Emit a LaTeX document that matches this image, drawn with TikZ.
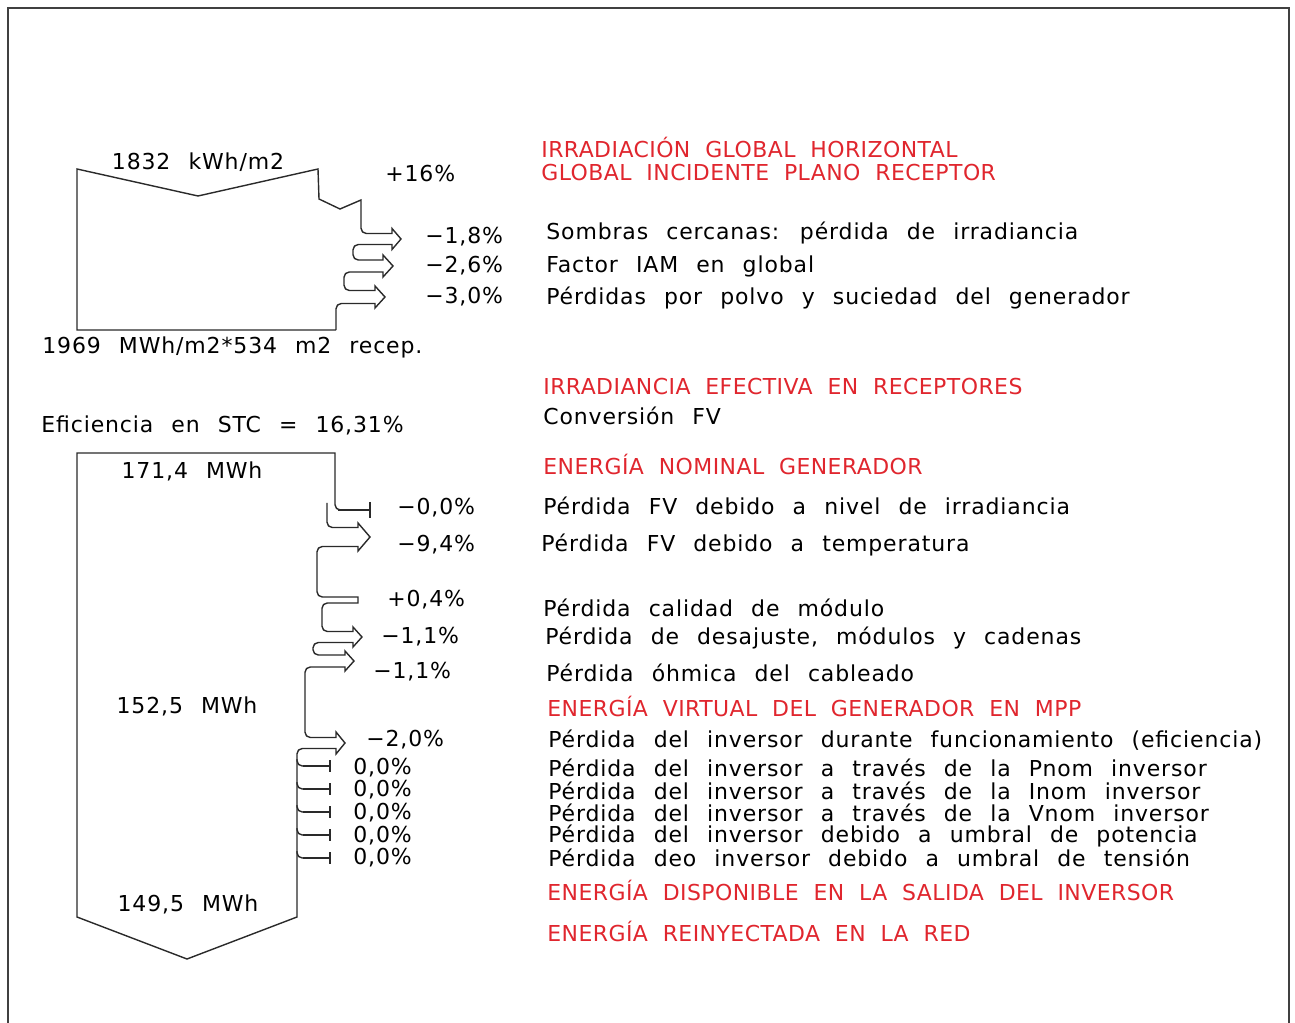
\documentclass[tikz,border=0pt]{standalone}
\usepackage{fontspec}
\usepackage{tikz}
\newfontfamily\cadfont[LetterSpace=4,WordSpace=2.3]{DejaVu Sans}
\newfontfamily\hdrfont[LetterSpace=2,WordSpace=2.0]{DejaVu Sans}
\definecolor{cRed}{HTML}{E0262E}
\definecolor{cLine}{HTML}{2A2A2A}

\begin{document}
\begin{tikzpicture}[x=0.02cm,y=-0.02cm,
   band/.style={draw=cLine,line width=0.8pt,line join=miter},
   tick/.style={draw=cLine,line width=1.6pt},
   lbl/.style={anchor=west,inner sep=0pt,font=\cadfont\fontsize{12.5}{14}\selectfont},
   hdr/.style={lbl,text=cRed,font=\hdrfont\fontsize{12.5}{14}\selectfont},
   val/.style={lbl,anchor=center}]
  \useasboundingbox (0,0) rectangle (1295,1023);
  % frame
  \draw[line width=1.2pt,black!75] (8,1023) -- (8,8) -- (1289,8) -- (1289,1023);
  % irradiation band
  \draw[band] (336,330) -- (77,330) -- (77,169) -- (198,196) -- (318,169)
     -- (319,199) -- (340,209) -- (361,200)
     [rounded corners=3pt] -- (361,233.5) [sharp corners] -- (392,233.5) -- (392,228.5)
     -- (401,239) -- (392,249.5) -- (392,244.5)
     [rounded corners=3pt] -- (353,244.5) -- (353,260) [sharp corners] -- (383,260)
     -- (383,255) -- (393,266) -- (383,277) -- (383,272)
     [rounded corners=3pt] -- (344,272) -- (344,290.5) [sharp corners] -- (375,290.5)
     -- (375,286) -- (385,297) -- (375,308) -- (375,303.5)
     [rounded corners=3pt] -- (336,303.5) [sharp corners] -- (336,330);
  % energy band
  \draw[band] (370,510) [rounded corners=3pt] -- (335,510) [sharp corners] -- (335,453)
     -- (77,453) -- (77,917) -- (187,959) -- (297,917)
     [rounded corners=3pt] -- (297,748.5) [sharp corners] -- (336,748.5) -- (336,754)
     -- (345,743) -- (336,732) -- (336,737.5)
     [rounded corners=3pt] -- (305,737.5) -- (305,667) [sharp corners] -- (345,667)
     -- (345,671) -- (354,661) -- (345,651) -- (345,655)
     [rounded corners=3pt] -- (313,655) -- (313,642.5) [sharp corners] -- (353,642.5)
     -- (353,647) -- (362,637) -- (353,627) -- (353,631.5)
     [rounded corners=3pt] -- (322,631.5) -- (322,603) [sharp corners] -- (358,603)
     -- (358,597) [rounded corners=3pt] -- (317,597) -- (317,546.5) [sharp corners]
     -- (358,546.5) -- (358,551) -- (370,537) -- (358,523) -- (358,527.5)
     [rounded corners=3pt] -- (327,527.5) [sharp corners] -- (327,503);
  \draw[tick] (338,510) -- (369,510);
  \draw[band,line width=1.2pt] (370,502) -- (370,518);
  % inverter ticks
  \foreach \y in {766,789,812,835,858}{
    \draw[band,rounded corners=3pt] (297,\y-7) |- (305,\y);
    \draw[tick] (303,\y) -- (329,\y);
    \draw[band,line width=1.2pt] (330,\y-6) -- (330,\y+6);
  }
  % values
  \node[val] (ghi) at (198,162) {1832 kWh/m2};
  \node[lbl] (gain) at (385,174) {+16\%};
  \node[lbl] (pSomb) at (425,237) {−1,8\%};
  \node[lbl] (pIam) at (425,266) {−2,6\%};
  \node[lbl] (pPolvo) at (425,297) {−3,0\%};
  \node[lbl] (recep) at (42,347) {1969 MWh/m2*534 m2 recep.};
  \node[lbl] (stc) at (41,425) {Eficiencia en STC = 16,31\%};
  \node[val] (eNom) at (192,471) {171,4 MWh};
  \node[lbl] (pIrr) at (397,508) {−0,0\%};
  \node[lbl] (pTemp) at (397,545) {−9,4\%};
  \node[lbl] (pCal) at (387,600) {+0,4\%};
  \node[lbl] (pDes) at (381,637) {−1,1\%};
  \node[lbl] (pOhm) at (373,672) {−1,1\%};
  \node[val] (eVirt) at (187,706) {152,5 MWh};
  \node[lbl] (pInv) at (366,740) {−2,0\%};
  \node[lbl] (pPnom) at (353,768) {0,0\%};
  \node[lbl] (pInom) at (353,790) {0,0\%};
  \node[lbl] (pVnom) at (353,813) {0,0\%};
  \node[lbl] (pUpot) at (353,836) {0,0\%};
  \node[lbl] (pUten) at (353,858) {0,0\%};
  \node[val] (eOut) at (188,904) {149,5 MWh};
  % descriptions
  \node[hdr] (tGhi) at (541,147) {IRRADIACIÓN GLOBAL HORIZONTAL};
  \node[hdr] (tGpoa) at (541,173) {GLOBAL INCIDENTE PLANO RECEPTOR};
  \node[lbl] (tSomb) at (546,233) {Sombras cercanas: pérdida de irradiancia};
  \node[lbl] (tIam) at (546,266) {Factor IAM en global};
  \node[lbl] (tPolvo) at (546,298) {Pérdidas por polvo y suciedad del generador};
  \node[hdr] (tEfec) at (543,387) {IRRADIANCIA EFECTIVA EN RECEPTORES};
  \node[lbl] (tConv) at (543,416) {Conversión FV};
  \node[hdr] (tNom) at (543,464) {ENERGÍA NOMINAL GENERADOR};
  \node[lbl] (tIrr) at (543,506) {Pérdida FV debido a nivel de irradiancia};
  \node[lbl] (tTemp) at (541,545) {Pérdida FV debido a temperatura};
  \node[lbl] (tCal) at (543,608) {Pérdida calidad de módulo};
  \node[lbl] (tDes) at (545,638) {Pérdida de desajuste, módulos y cadenas};
  \node[lbl] (tOhm) at (546,673) {Pérdida óhmica del cableado};
  \node[hdr] (tVirt) at (547,706) {ENERGÍA VIRTUAL DEL GENERADOR EN MPP};
  \node[lbl] (tInv) at (548,740) {Pérdida del inversor durante funcionamiento (eficiencia)};
  \node[lbl] (tPnom) at (548,768) {Pérdida del inversor a través de la Pnom inversor};
  \node[lbl] (tInom) at (548,791) {Pérdida del inversor a través de la Inom inversor};
  \node[lbl] (tVnom) at (548,813) {Pérdida del inversor a través de la Vnom inversor};
  \node[lbl] (tUpot) at (548,836) {Pérdida del inversor debido a umbral de potencia};
  \node[lbl] (tUten) at (548,858) {Pérdida deo inversor debido a umbral de tensión};
  \node[hdr] (tOut) at (547,890) {ENERGÍA DISPONIBLE EN LA SALIDA DEL INVERSOR};
  \node[hdr] (tRed) at (547,931) {ENERGÍA REINYECTADA EN LA RED};
\end{tikzpicture}
\end{document}
